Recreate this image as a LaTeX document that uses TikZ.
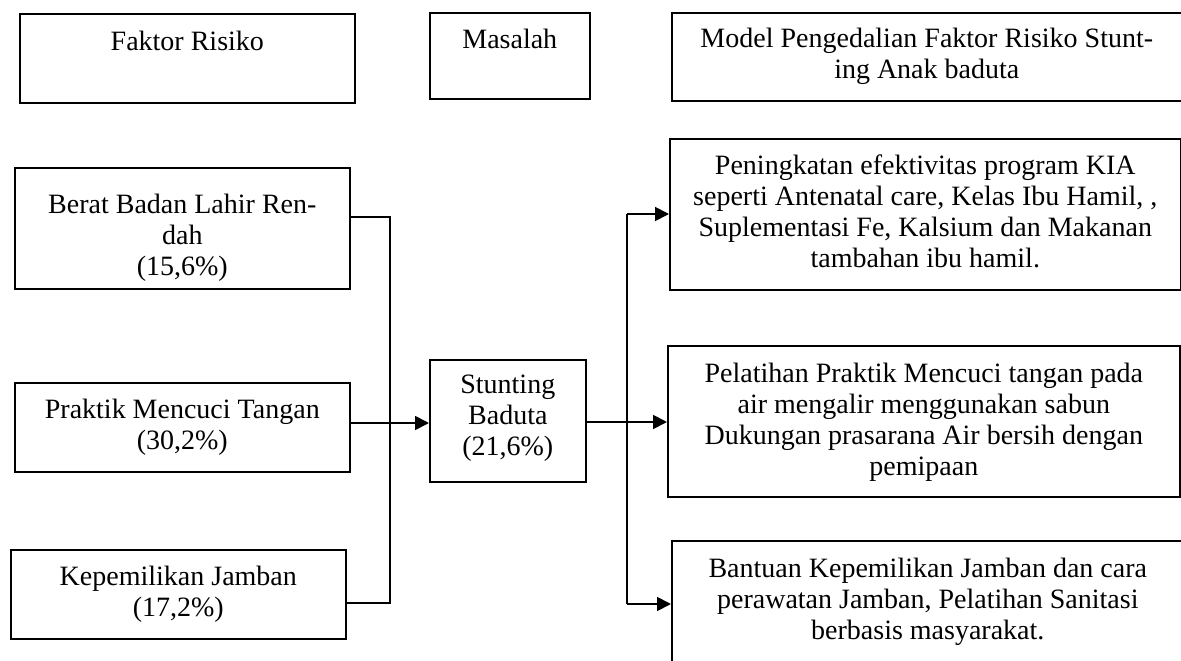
\documentclass[tikz,border=0pt]{standalone}
\usepackage{fontspec}
\setmainfont{Liberation Serif}
\usepackage{tikz}
\usetikzlibrary{arrows.meta}
\tikzset{
    kotak/.style = {draw=black, line width=1.6pt, rectangle, inner sep=0pt, anchor=north west, font=\fontsize{28}{31}\selectfont},
    garis/.style = {draw=black, line width=1.8pt},
    panah/.style = {garis, -{Triangle[length=14pt,width=14pt]}},
}
% isi kotak: lebar, tinggi, jarak baris pertama, teks
\newcommand{\isikotak}[4]{\begin{minipage}[c][#2][t]{#1}\centering\rule{0pt}{#3}#4\end{minipage}}

\begin{document}
\begin{tikzpicture}[x=1pt, y=-1pt]
\useasboundingbox (0,0) rectangle (1181,661);
\clip (0,0) rectangle (1181,661);
% judul kolom
\node [kotak] (faktor) at (19,13) {\isikotak{335pt}{89pt}{37pt}{Faktor Risiko}};
\node [kotak] (masalah) at (429,12) {\isikotak{160pt}{86pt}{36pt}{Masalah}};
\node [kotak] (model) at (671,12) {\isikotak{510pt}{88pt}{35pt}{Model Pengedalian Faktor Risiko Stunt-\\ing Anak baduta}};
% faktor risiko
\node [kotak] (berat) at (14,167) {\isikotak{335pt}{121pt}{46pt}{Berat Badan Lahir Ren-\\dah\\(15,6\%)}};
\node [kotak] (praktik) at (14,382) {\isikotak{335pt}{89pt}{36pt}{Praktik Mencuci Tangan\\(30,2\%)}};
\node [kotak] (kepemilikan) at (10,549) {\isikotak{335pt}{89pt}{36pt}{Kepemilikan Jamban\\(17,2\%)}};
% masalah
\node [kotak] (stunting) at (429,359) {\isikotak{156pt}{122pt}{34pt}{Stunting\\Baduta\\(21,6\%)}};
% model pengendalian
\node [kotak] (kia) at (669,138) {\isikotak{511pt}{151pt}{36pt}{Peningkatan efektivitas program KIA\\seperti Antenatal care, Kelas Ibu Hamil, ,\\Suplementasi Fe, Kalsium dan Makanan\\tambahan ibu hamil.}};
\node [kotak] (air) at (667,345) {\isikotak{512pt}{151pt}{37pt}{Pelatihan Praktik Mencuci tangan pada\\air mengalir menggunakan sabun\\Dukungan prasarana Air bersih dengan\\pemipaan}};
\node [kotak] (jamban) at (671,540) {\isikotak{512pt}{150pt}{37pt}{Bantuan Kepemilikan Jamban dan cara\\perawatan Jamban, Pelatihan Sanitasi\\berbasis masyarakat.}};
% titik sambung
\coordinate (kiri-atas) at (390,217);
\coordinate (kiri-tengah) at (390,423);
\coordinate (kiri-bawah) at (390,603);
\coordinate (kanan-atas) at (627,214);
\coordinate (kanan-tengah) at (627,422);
\coordinate (kanan-bawah) at (627,604);
% garis penghubung
\draw [garis] (berat.east |- kiri-atas) -- (kiri-atas) -- (kiri-bawah) -- (kepemilikan.east |- kiri-bawah);
\draw [panah] (praktik.east |- kiri-tengah) -- (stunting.west |- kiri-tengah);
\draw [garis] (stunting.east |- kanan-tengah) -- (kanan-tengah);
\draw [garis] (kanan-atas) -- (kanan-bawah);
\draw [panah] (kanan-atas) -- (kia.west |- kanan-atas);
\draw [panah] (kanan-tengah) -- (air.west |- kanan-tengah);
\draw [panah] (kanan-bawah) -- (jamban.west |- kanan-bawah);
\end{tikzpicture}
\end{document}
